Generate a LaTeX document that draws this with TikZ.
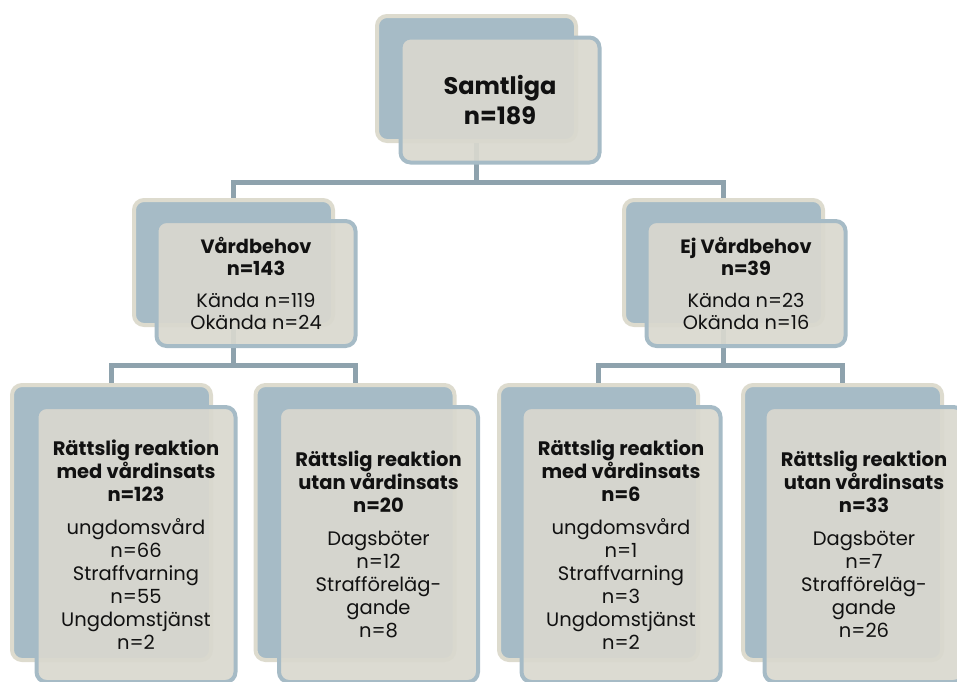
\documentclass[tikz,border=0pt]{standalone}
\usepackage{fontspec}
\setmainfont{Poppins}
\usetikzlibrary{positioning}
\definecolor{slate}{HTML}{A6BBC6}
\definecolor{sand}{HTML}{DDDBCE}
\definecolor{paper}{HTML}{D9D8CF}
\definecolor{wire}{HTML}{8EA2AD}
\definecolor{ink}{HTML}{111111}

\begin{document}
\begin{tikzpicture}[x=1pt, y=-1pt,
  back/.style={draw=sand, fill=slate, line width=4pt, rounded corners=10pt,
    inner sep=0pt},
  front/.style={draw=slate, fill=paper, fill opacity=0.93, text opacity=1,
    line width=4pt, rounded corners=10pt, inner sep=0pt, align=center,
    text=ink},
  top/.style={minimum width=199pt, minimum height=125pt},
  mid/.style={minimum width=199pt, minimum height=125pt,
    font=\fontsize{19.3}{22}\selectfont},
  leaf/.style={minimum width=199pt, minimum height=275pt,
    font=\fontsize{19.5}{23}\selectfont},
  conn/.style={draw=wire, line width=5pt}
]
\useasboundingbox (0,0) rectangle (957,681);

% back plates
\node[back, top] (all-b) at (476.5,78.5) {};
\node[back, mid] (care-b) at (233.5,262.5) {};
\node[back, mid] (nocare-b) at (723.5,262.5) {};
\node[back, leaf] (cw-b) at (111.5,522.5) {};
\node[back, leaf] (cwo-b) at (355,522.5) {};
\node[back, leaf] (nw-b) at (598.5,522.5) {};
\node[back, leaf] (nwo-b) at (842.5,522.5) {};

% connectors (under the front plates)
\draw[conn] (all-b.south) -- ++(0,39) -| (care-b.north);
\draw[conn] (all-b.south) -- ++(0,39) -| (nocare-b.north);
\draw[conn] (care-b.south) -- ++(0,38) -| (cw-b.north);
\draw[conn] (care-b.south) -- ++(0,38) -| (cwo-b.north);
\draw[conn] (nocare-b.south) -- ++(0,38) -| (nw-b.north);
\draw[conn] (nocare-b.south) -- ++(0,38) -| (nwo-b.north);

% front plates with the text
\node[front, top, font=\fontsize{24}{30}\selectfont\bfseries] (all) at (500,100)
  {Samtliga\\n=189};
\node[front, mid] (care) at (256,283.5)
  {\textbf{Vårdbehov}\\\textbf{n=143}\\[10pt]Kända n=119\\Okända n=24};
\node[front, mid] (nocare) at (746,283.5)
  {\textbf{Ej Vårdbehov}\\\textbf{n=39}\\[10pt]Kända n=23\\Okända n=16};
\node[front, leaf] (cw) at (136,544.5)
  {\textbf{Rättslig reaktion}\\\textbf{med vårdinsats}\\\textbf{n=123}\\[10pt]
   ungdomsvård\\n=66\\Straffvarning\\n=55\\Ungdomstjänst\\n=2};
\node[front, leaf] (cwo) at (378.5,544.5)
  {\textbf{Rättslig reaktion}\\\textbf{utan vårdinsats}\\\textbf{n=20}\\[10pt]
   Dagsböter\\n=12\\Strafföreläg-\\gande\\n=8};
\node[front, leaf] (nw) at (621,544.5)
  {\textbf{Rättslig reaktion}\\\textbf{med vårdinsats}\\\textbf{n=6}\\[10pt]
   ungdomsvård\\n=1\\Straffvarning\\n=3\\Ungdomstjänst\\n=2};
\node[front, leaf] (nwo) at (864,544.5)
  {\textbf{Rättslig reaktion}\\\textbf{utan vårdinsats}\\\textbf{n=33}\\[10pt]
   Dagsböter\\n=7\\Strafföreläg-\\gande\\n=26};

\end{tikzpicture}
\end{document}
